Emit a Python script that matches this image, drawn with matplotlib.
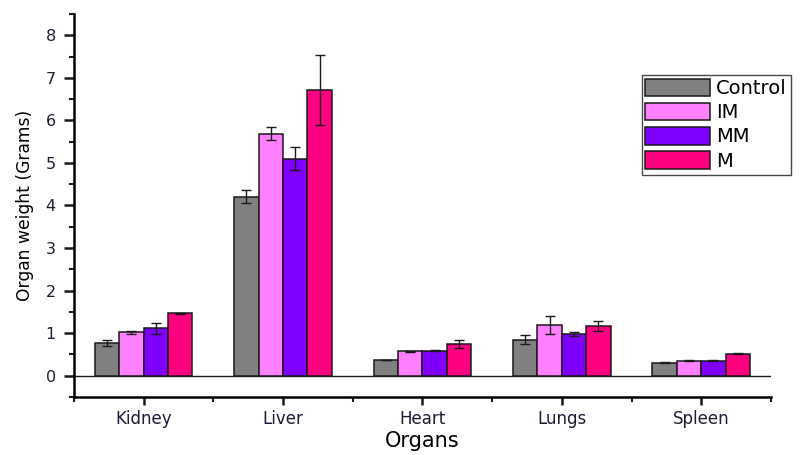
import numpy as np
from matplotlib import pyplot as plt
from matplotlib.ticker import MultipleLocator

organs = ['Kidney', 'Liver', 'Heart', 'Lungs', 'Spleen']
groups = ['Control', 'IM', 'MM', 'M']
colors = ['#808080', '#FF80FF', '#8000FF', '#FF0080']

control = [0.77, 4.21, 0.37, 0.85, 0.31]
im = [1.02, 5.69, 0.57, 1.19, 0.35]
mm = [1.11, 5.10, 0.59, 0.98, 0.35]
m = [1.47, 6.72, 0.75, 1.17, 0.52]

control_err = [0.07, 0.15, 0.0, 0.11, 0.01]
im_err = [0.04, 0.15, 0.01, 0.21, 0.01]
mm_err = [0.13, 0.27, 0.01, 0.04, 0.01]
m_err = [0.01, 0.82, 0.09, 0.11, 0.01]

values = [control, im, mm, m]
errors = [control_err, im_err, mm_err, m_err]

# wide sans to get close to the stretched look of the original
plt.rcParams['font.family'] = ['DejaVu Sans']

fig = plt.figure(figsize=(8.11, 4.55), dpi=100)
ax = fig.add_axes([0.0912, 0.1275, 0.8594, 0.8418])

x = np.arange(1, len(organs) + 1)
w = 0.175
for i, (name, vals, errs, c) in enumerate(zip(groups, values, errors, colors)):
    pos = x + (i - 1.5) * w
    ax.bar(pos, vals, width=w, color=c, edgecolor='#1a1a1a', linewidth=1.1, label=name, zorder=2)
    ax.errorbar(pos, vals, yerr=errs, fmt='none', ecolor='#1a1a1a', elinewidth=1.0,
                capsize=3.5, capthick=1.0, zorder=3)

ax.axhline(0, color='#1a1a1a', linewidth=1.0, zorder=1)

ax.set_xlim(0.5, 5.5)
ax.set_ylim(-0.5, 8.5)
ax.set_xticks(x)
ax.set_xticklabels(organs)
ax.set_xticks(np.arange(0.5, 6.0, 1.0), minor=True)
ax.yaxis.set_major_locator(MultipleLocator(1))
ax.yaxis.set_minor_locator(MultipleLocator(0.5))
ax.set_yticks(np.arange(0, 9, 1))

for s in ['top', 'right']:
    ax.spines[s].set_visible(False)
for s in ['left', 'bottom']:
    ax.spines[s].set_linewidth(1.8)

ax.tick_params(axis='y', which='major', direction='out', length=7.2, width=1.8, colors='#1a1a1a')
ax.tick_params(axis='y', which='minor', direction='out', length=3.6, width=1.5, colors='#1a1a1a')
ax.tick_params(axis='x', which='major', direction='out', length=5.5, width=1.8, colors='#1a1a1a')
ax.tick_params(axis='x', which='minor', direction='out', length=3.5, width=1.5, colors='#1a1a1a')
ax.tick_params(axis='y', which='major', labelsize=11.5, labelcolor='#1c1c38', pad=6)
ax.tick_params(axis='x', which='major', labelsize=12, labelcolor='#1c1c38', pad=4)

ax.set_ylabel('Organ weight (Grams)', fontsize=12.3, labelpad=8)
ax.set_xlabel('Organs', fontsize=15, labelpad=2)

leg = fig.legend(loc='upper left', bbox_to_anchor=(0.791, 0.836), fontsize=14,
                 handlelength=3.3, handleheight=1.03, labelspacing=0.24,
                 handletextpad=0.35, borderpad=0.2, borderaxespad=0.0,
                 frameon=True, fancybox=False, edgecolor='#1a1a1a')
leg.get_frame().set_linewidth(1.0)

fig.savefig('out.png', dpi=100)
